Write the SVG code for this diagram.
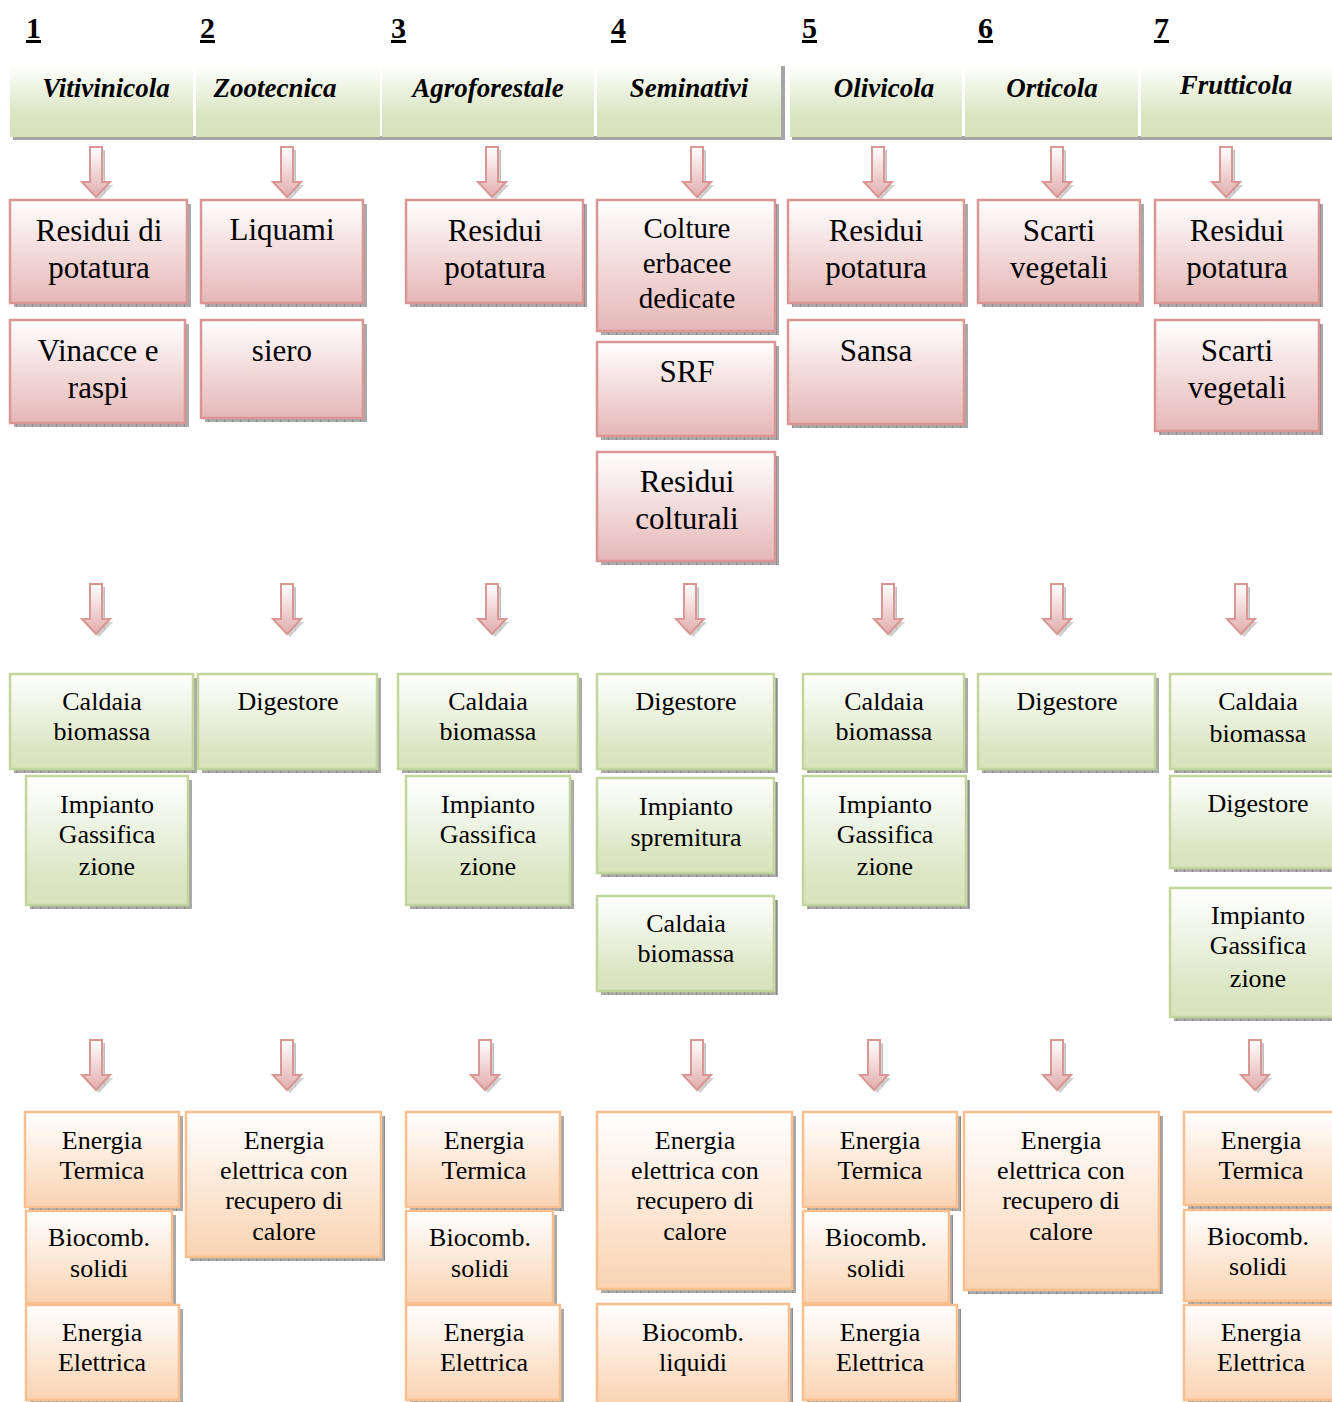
<svg xmlns="http://www.w3.org/2000/svg" xmlns:xlink="http://www.w3.org/1999/xlink" width="1332" height="1402" viewBox="0 0 1332 1402">
  <defs>
    <linearGradient id="gPink" x1="0" y1="0" x2="0" y2="1">
      <stop offset="0" stop-color="#ffffff"/>
      <stop offset="1" stop-color="#e5b7b6"/>
    </linearGradient>
    <linearGradient id="gGreen" x1="0" y1="0" x2="0" y2="1">
      <stop offset="0" stop-color="#ffffff"/>
      <stop offset="0.75" stop-color="#dce7c6"/>
      <stop offset="1" stop-color="#d6e3bc"/>
    </linearGradient>
    <linearGradient id="gOrange" x1="0" y1="0" x2="0" y2="1">
      <stop offset="0" stop-color="#ffffff"/>
      <stop offset="1" stop-color="#fad3b2"/>
    </linearGradient>
    <linearGradient id="gHead" x1="0" y1="0" x2="0" y2="1">
      <stop offset="0" stop-color="#ffffff"/>
      <stop offset="0.7" stop-color="#d9e5c0"/>
      <stop offset="1" stop-color="#d6e3bc"/>
    </linearGradient>
    <linearGradient id="gArrow" x1="0" y1="0" x2="0" y2="1">
      <stop offset="0" stop-color="#ffffff"/>
      <stop offset="1" stop-color="#e2adac"/>
    </linearGradient>
    <pattern id="hatch" patternUnits="userSpaceOnUse" width="8" height="8">
      <rect width="8" height="8" fill="#a9a9a9"/>
      <path d="M0 0 V8" stroke="#6e6e6e" stroke-width="1"/>
    </pattern>
    <!-- block arrow pointing down, origin at top centre -->
    <g id="arr">
      <path d="M-3,3 H9 V38 H17 L3,53 L-11,38 H-3 Z" fill="url(#hatch)" opacity="0.55"/>
      <path d="M-6,0 H6 V35 H14 L0,50 L-14,35 H-6 Z" fill="url(#gArrow)" stroke="#d99694" stroke-width="2"/>
    </g>
    <style>
      .sh { fill: url(#hatch); }
      .pk { fill: url(#gPink); stroke: #d99694; stroke-width: 2.5; }
      .gr { fill: url(#gGreen); stroke: #c2d69b; stroke-width: 2.5; }
      .or { fill: url(#gOrange); stroke: #fabf8f; stroke-width: 2.5; }
      .hd { fill: url(#gHead); }
      .hsh { fill: #a5a5a5; }
      text { font-family: "Liberation Serif", "Times New Roman", serif; fill: #000; text-anchor: middle; }
      .t1 { font-size: 31px; }
      .t1s { font-size: 29px; }
      .t2 { font-size: 26px; }
      .th { font-size: 27px; font-weight: bold; font-style: italic; }
      .num { font-size: 30px; font-weight: bold; text-anchor: start; text-decoration: underline; }
    </style>
  </defs>

  <rect width="1332" height="1402" fill="#ffffff"/>

  <!-- column numbers -->
  <g id="numbers">
    <text class="num" x="26" y="38">1</text>
    <text class="num" x="200" y="38">2</text>
    <text class="num" x="391" y="38">3</text>
    <text class="num" x="611" y="38">4</text>
    <text class="num" x="802" y="38">5</text>
    <text class="num" x="978" y="38">6</text>
    <text class="num" x="1154" y="38">7</text>
  </g>

  <!-- header bars -->
  <g id="header">
    <rect class="hsh" x="13" y="136" width="771" height="4"/>
    <rect class="hsh" x="781" y="66" width="4" height="74"/>
    <rect class="hsh" x="792" y="136" width="540" height="4"/>
    <g id="h-vitivinicola"><rect class="hd" x="10" y="65" width="183" height="72"/><text class="th" x="106" y="97">Vitivinicola</text></g>
    <g id="h-zootecnica"><rect class="hd" x="196" y="65" width="184" height="72"/><text class="th" x="275" y="97">Zootecnica</text></g>
    <g id="h-agroforestale"><rect class="hd" x="382" y="65" width="212" height="72"/><text class="th" x="488" y="97">Agroforestale</text></g>
    <g id="h-seminativi"><rect class="hd" x="597" y="65" width="184" height="72"/><text class="th" x="689" y="97">Seminativi</text></g>
    <g id="h-olivicola"><rect class="hd" x="790" y="65" width="172" height="72"/><text class="th" x="884" y="97">Olivicola</text></g>
    <g id="h-orticola"><rect class="hd" x="965" y="65" width="173" height="72"/><text class="th" x="1052" y="97">Orticola</text></g>
    <g id="h-frutticola"><rect class="hd" x="1141" y="65" width="191" height="72"/><text class="th" x="1236" y="94">Frutticola</text></g>
  </g>

  <!-- connectors -->
  <g id="connectors">
    <use href="#arr" x="96" y="147"/>
    <use href="#arr" x="287" y="147"/>
    <use href="#arr" x="492" y="147"/>
    <use href="#arr" x="697" y="147"/>
    <use href="#arr" x="878" y="147"/>
    <use href="#arr" x="1057" y="147"/>
    <use href="#arr" x="1226" y="147"/>

    <use href="#arr" x="96" y="584"/>
    <use href="#arr" x="287" y="584"/>
    <use href="#arr" x="492" y="584"/>
    <use href="#arr" x="690" y="584"/>
    <use href="#arr" x="888" y="584"/>
    <use href="#arr" x="1057" y="584"/>
    <use href="#arr" x="1241" y="584"/>

    <use href="#arr" x="96" y="1040"/>
    <use href="#arr" x="287" y="1040"/>
    <use href="#arr" x="485" y="1040"/>
    <use href="#arr" x="697" y="1040"/>
    <use href="#arr" x="874" y="1040"/>
    <use href="#arr" x="1057" y="1040"/>
    <use href="#arr" x="1255" y="1040"/>
  </g>

  <!-- biomass sources -->
  <g id="n-residui-di-potatura">
    <rect class="sh" x="14" y="204" width="177" height="103"/>
    <rect class="pk" x="10" y="200" width="177" height="103"/>
    <text class="t1"><tspan x="99" y="241">Residui di</tspan><tspan x="99" y="278">potatura</tspan></text>
  </g>
  <g id="n-vinacce">
    <rect class="sh" x="14" y="324" width="175" height="103"/>
    <rect class="pk" x="10" y="320" width="175" height="103"/>
    <text class="t1"><tspan x="98" y="361">Vinacce e</tspan><tspan x="98" y="398">raspi</tspan></text>
  </g>
  <g id="n-liquami">
    <rect class="sh" x="205" y="204" width="162" height="103"/>
    <rect class="pk" x="201" y="200" width="162" height="103"/>
    <text class="t1"><tspan x="282" y="240">Liquami</tspan></text>
  </g>
  <g id="n-siero">
    <rect class="sh" x="205" y="324" width="162" height="98"/>
    <rect class="pk" x="201" y="320" width="162" height="98"/>
    <text class="t1"><tspan x="282" y="361">siero</tspan></text>
  </g>
  <g id="n-residui-potatura-3">
    <rect class="sh" x="410" y="204" width="177" height="103"/>
    <rect class="pk" x="406" y="200" width="177" height="103"/>
    <text class="t1"><tspan x="495" y="241">Residui</tspan><tspan x="495" y="278">potatura</tspan></text>
  </g>
  <g id="n-colture-erbacee">
    <rect class="sh" x="601" y="204" width="178" height="131"/>
    <rect class="pk" x="597" y="200" width="178" height="131"/>
    <text class="t1s"><tspan x="687" y="238">Colture</tspan><tspan x="687" y="273">erbacee</tspan><tspan x="687" y="308">dedicate</tspan></text>
  </g>
  <g id="n-srf">
    <rect class="sh" x="601" y="346" width="178" height="94"/>
    <rect class="pk" x="597" y="342" width="178" height="94"/>
    <text class="t1"><tspan x="687" y="382">SRF</tspan></text>
  </g>
  <g id="n-residui-colturali">
    <rect class="sh" x="601" y="456" width="178" height="109"/>
    <rect class="pk" x="597" y="452" width="178" height="109"/>
    <text class="t1"><tspan x="687" y="492">Residui</tspan><tspan x="687" y="529">colturali</tspan></text>
  </g>
  <g id="n-residui-potatura-5">
    <rect class="sh" x="792" y="204" width="176" height="103"/>
    <rect class="pk" x="788" y="200" width="176" height="103"/>
    <text class="t1"><tspan x="876" y="241">Residui</tspan><tspan x="876" y="278">potatura</tspan></text>
  </g>
  <g id="n-sansa">
    <rect class="sh" x="792" y="324" width="176" height="104"/>
    <rect class="pk" x="788" y="320" width="176" height="104"/>
    <text class="t1"><tspan x="876" y="361">Sansa</tspan></text>
  </g>
  <g id="n-scarti-vegetali-6">
    <rect class="sh" x="982" y="204" width="162" height="103"/>
    <rect class="pk" x="978" y="200" width="162" height="103"/>
    <text class="t1"><tspan x="1059" y="241">Scarti</tspan><tspan x="1059" y="278">vegetali</tspan></text>
  </g>
  <g id="n-residui-potatura-7">
    <rect class="sh" x="1159" y="204" width="164" height="103"/>
    <rect class="pk" x="1155" y="200" width="164" height="103"/>
    <text class="t1"><tspan x="1237" y="241">Residui</tspan><tspan x="1237" y="278">potatura</tspan></text>
  </g>
  <g id="n-scarti-vegetali-7">
    <rect class="sh" x="1159" y="324" width="164" height="111"/>
    <rect class="pk" x="1155" y="320" width="164" height="111"/>
    <text class="t1"><tspan x="1237" y="361">Scarti</tspan><tspan x="1237" y="398">vegetali</tspan></text>
  </g>

  <!-- conversion plants -->
  <g id="n-caldaia-1">
    <rect class="sh" x="14" y="678" width="183" height="95"/>
    <rect class="gr" x="10" y="674" width="183" height="95"/>
    <text class="t2"><tspan x="102" y="710">Caldaia</tspan><tspan x="102" y="740">biomassa</tspan></text>
  </g>
  <g id="n-gassificazione-1">
    <rect class="sh" x="30" y="780" width="162" height="129"/>
    <rect class="gr" x="26" y="776" width="162" height="129"/>
    <text class="t2"><tspan x="107" y="813">Impianto</tspan><tspan x="107" y="843">Gassifica</tspan><tspan x="107" y="875">zione</tspan></text>
  </g>
  <g id="n-digestore-2">
    <rect class="sh" x="202" y="678" width="179" height="95"/>
    <rect class="gr" x="198" y="674" width="179" height="95"/>
    <text class="t2"><tspan x="288" y="710">Digestore</tspan></text>
  </g>
  <g id="n-caldaia-3">
    <rect class="sh" x="402" y="678" width="180" height="95"/>
    <rect class="gr" x="398" y="674" width="180" height="95"/>
    <text class="t2"><tspan x="488" y="710">Caldaia</tspan><tspan x="488" y="740">biomassa</tspan></text>
  </g>
  <g id="n-gassificazione-3">
    <rect class="sh" x="410" y="780" width="164" height="129"/>
    <rect class="gr" x="406" y="776" width="164" height="129"/>
    <text class="t2"><tspan x="488" y="813">Impianto</tspan><tspan x="488" y="843">Gassifica</tspan><tspan x="488" y="875">zione</tspan></text>
  </g>
  <g id="n-digestore-4">
    <rect class="sh" x="601" y="678" width="177" height="95"/>
    <rect class="gr" x="597" y="674" width="177" height="95"/>
    <text class="t2"><tspan x="686" y="710">Digestore</tspan></text>
  </g>
  <g id="n-spremitura">
    <rect class="sh" x="601" y="782" width="177" height="95"/>
    <rect class="gr" x="597" y="778" width="177" height="95"/>
    <text class="t2"><tspan x="686" y="815">Impianto</tspan><tspan x="686" y="846">spremitura</tspan></text>
  </g>
  <g id="n-caldaia-4">
    <rect class="sh" x="601" y="900" width="177" height="95"/>
    <rect class="gr" x="597" y="896" width="177" height="95"/>
    <text class="t2"><tspan x="686" y="932">Caldaia</tspan><tspan x="686" y="962">biomassa</tspan></text>
  </g>
  <g id="n-caldaia-5">
    <rect class="sh" x="807" y="678" width="161" height="95"/>
    <rect class="gr" x="803" y="674" width="161" height="95"/>
    <text class="t2"><tspan x="884" y="710">Caldaia</tspan><tspan x="884" y="740">biomassa</tspan></text>
  </g>
  <g id="n-gassificazione-5">
    <rect class="sh" x="807" y="780" width="163" height="129"/>
    <rect class="gr" x="803" y="776" width="163" height="129"/>
    <text class="t2"><tspan x="885" y="813">Impianto</tspan><tspan x="885" y="843">Gassifica</tspan><tspan x="885" y="875">zione</tspan></text>
  </g>
  <g id="n-digestore-6">
    <rect class="sh" x="982" y="678" width="177" height="95"/>
    <rect class="gr" x="978" y="674" width="177" height="95"/>
    <text class="t2"><tspan x="1067" y="710">Digestore</tspan></text>
  </g>
  <g id="n-caldaia-7">
    <rect class="sh" x="1174" y="678" width="170" height="95"/>
    <rect class="gr" x="1170" y="674" width="170" height="95"/>
    <text class="t2"><tspan x="1258" y="710">Caldaia</tspan><tspan x="1258" y="742">biomassa</tspan></text>
  </g>
  <g id="n-digestore-7">
    <rect class="sh" x="1174" y="780" width="170" height="92"/>
    <rect class="gr" x="1170" y="776" width="170" height="92"/>
    <text class="t2"><tspan x="1258" y="812">Digestore</tspan></text>
  </g>
  <g id="n-gassificazione-7">
    <rect class="sh" x="1174" y="892" width="170" height="129"/>
    <rect class="gr" x="1170" y="888" width="170" height="129"/>
    <text class="t2"><tspan x="1258" y="924">Impianto</tspan><tspan x="1258" y="954">Gassifica</tspan><tspan x="1258" y="987">zione</tspan></text>
  </g>

  <!-- energy outputs -->
  <g id="n-termica-1">
    <rect class="sh" x="29" y="1116" width="154" height="95"/>
    <rect class="or" x="25" y="1112" width="154" height="95"/>
    <text class="t2"><tspan x="102" y="1149">Energia</tspan><tspan x="102" y="1179">Termica</tspan></text>
  </g>
  <g id="n-solidi-1">
    <rect class="sh" x="30" y="1215" width="146" height="92"/>
    <rect class="or" x="26" y="1211" width="146" height="92"/>
    <text class="t2"><tspan x="99" y="1246">Biocomb.</tspan><tspan x="99" y="1277">solidi</tspan></text>
  </g>
  <g id="n-elettrica-1">
    <rect class="sh" x="30" y="1309" width="153" height="95"/>
    <rect class="or" x="26" y="1305" width="153" height="95"/>
    <text class="t2"><tspan x="102" y="1341">Energia</tspan><tspan x="102" y="1371">Elettrica</tspan></text>
  </g>
  <g id="n-cogenerazione-2">
    <rect class="sh" x="190" y="1116" width="195" height="145"/>
    <rect class="or" x="186" y="1112" width="195" height="145"/>
    <text class="t2"><tspan x="284" y="1149">Energia</tspan><tspan x="284" y="1179">elettrica con</tspan><tspan x="284" y="1209">recupero di</tspan><tspan x="284" y="1240">calore</tspan></text>
  </g>
  <g id="n-termica-3">
    <rect class="sh" x="410" y="1116" width="154" height="95"/>
    <rect class="or" x="406" y="1112" width="154" height="95"/>
    <text class="t2"><tspan x="484" y="1149">Energia</tspan><tspan x="484" y="1179">Termica</tspan></text>
  </g>
  <g id="n-solidi-3">
    <rect class="sh" x="410" y="1215" width="147" height="92"/>
    <rect class="or" x="406" y="1211" width="147" height="92"/>
    <text class="t2"><tspan x="480" y="1246">Biocomb.</tspan><tspan x="480" y="1277">solidi</tspan></text>
  </g>
  <g id="n-elettrica-3">
    <rect class="sh" x="410" y="1309" width="154" height="95"/>
    <rect class="or" x="406" y="1305" width="154" height="95"/>
    <text class="t2"><tspan x="484" y="1341">Energia</tspan><tspan x="484" y="1371">Elettrica</tspan></text>
  </g>
  <g id="n-cogenerazione-4">
    <rect class="sh" x="601" y="1116" width="195" height="177"/>
    <rect class="or" x="597" y="1112" width="195" height="177"/>
    <text class="t2"><tspan x="695" y="1149">Energia</tspan><tspan x="695" y="1179">elettrica con</tspan><tspan x="695" y="1209">recupero di</tspan><tspan x="695" y="1240">calore</tspan></text>
  </g>
  <g id="n-liquidi-4">
    <rect class="sh" x="601" y="1308" width="192" height="100"/>
    <rect class="or" x="597" y="1304" width="192" height="100"/>
    <text class="t2"><tspan x="693" y="1341">Biocomb.</tspan><tspan x="693" y="1371">liquidi</tspan></text>
  </g>
  <g id="n-termica-5">
    <rect class="sh" x="807" y="1116" width="154" height="95"/>
    <rect class="or" x="803" y="1112" width="154" height="95"/>
    <text class="t2"><tspan x="880" y="1149">Energia</tspan><tspan x="880" y="1179">Termica</tspan></text>
  </g>
  <g id="n-solidi-5">
    <rect class="sh" x="807" y="1215" width="146" height="92"/>
    <rect class="or" x="803" y="1211" width="146" height="92"/>
    <text class="t2"><tspan x="876" y="1246">Biocomb.</tspan><tspan x="876" y="1277">solidi</tspan></text>
  </g>
  <g id="n-elettrica-5">
    <rect class="sh" x="807" y="1309" width="154" height="95"/>
    <rect class="or" x="803" y="1305" width="154" height="95"/>
    <text class="t2"><tspan x="880" y="1341">Energia</tspan><tspan x="880" y="1371">Elettrica</tspan></text>
  </g>
  <g id="n-cogenerazione-6">
    <rect class="sh" x="968" y="1116" width="195" height="178"/>
    <rect class="or" x="964" y="1112" width="195" height="178"/>
    <text class="t2"><tspan x="1061" y="1149">Energia</tspan><tspan x="1061" y="1179">elettrica con</tspan><tspan x="1061" y="1209">recupero di</tspan><tspan x="1061" y="1240">calore</tspan></text>
  </g>
  <g id="n-termica-7">
    <rect class="sh" x="1188" y="1116" width="150" height="93"/>
    <rect class="or" x="1184" y="1112" width="150" height="93"/>
    <text class="t2"><tspan x="1261" y="1149">Energia</tspan><tspan x="1261" y="1179">Termica</tspan></text>
  </g>
  <g id="n-solidi-7">
    <rect class="sh" x="1188" y="1214" width="150" height="91"/>
    <rect class="or" x="1184" y="1210" width="150" height="91"/>
    <text class="t2"><tspan x="1258" y="1245">Biocomb.</tspan><tspan x="1258" y="1275">solidi</tspan></text>
  </g>
  <g id="n-elettrica-7">
    <rect class="sh" x="1188" y="1309" width="150" height="95"/>
    <rect class="or" x="1184" y="1305" width="150" height="95"/>
    <text class="t2"><tspan x="1261" y="1341">Energia</tspan><tspan x="1261" y="1371">Elettrica</tspan></text>
  </g>
</svg>
